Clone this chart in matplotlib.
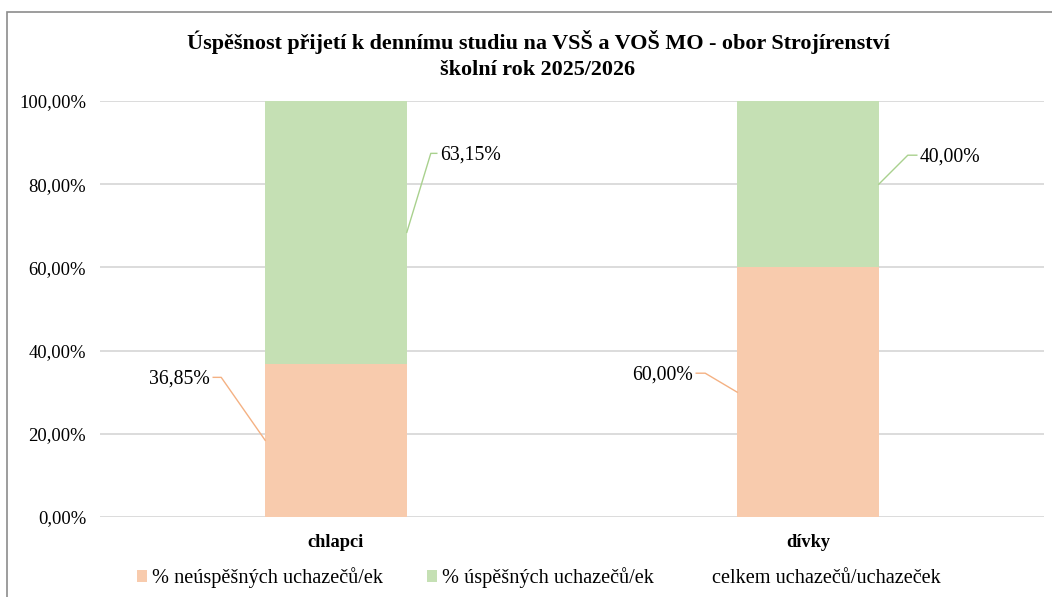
import matplotlib
matplotlib.use("Agg")
import matplotlib.pyplot as plt
from matplotlib.patches import Patch, Rectangle
import numpy as np

plt.rcParams['font.family'] = ['Liberation Serif', 'DejaVu Serif']

categories = ["chlapci", "dívky"]
fail_pct = [36.85, 60.00]
success_pct = [63.15, 40.00]
series_names = ["% neúspěšných uchazečů/ek", "% úspěšných uchazečů/ek", "celkem uchazečů/uchazeček"]
yticks = [0, 20, 40, 60, 80, 100]
title = "Úspěšnost přijetí k dennímu studiu na VSŠ a VOŠ MO - obor Strojírenství\nškolní rok 2025/2026"

c_fail = "#F8CBAD"
c_succ = "#C5E0B4"
c_fail_line = "#F4B183"
c_succ_line = "#A9D18E"

W, H = 1052, 597
fig = plt.figure(figsize=(W / 100, H / 100), dpi=100)
# outer chart frame
fig.patches.append(Rectangle((7 / W, -0.1), 1.2, (H - 12) / H + 0.1, transform=fig.transFigure,
                             fill=False, edgecolor="#8C8C8C", linewidth=1.2))

ax = fig.add_axes([100 / W, 1 - 517 / H, 944 / W, 416 / H])
x = np.arange(len(categories))
bw = 0.30
ax.bar(x, fail_pct, bw, color=c_fail, zorder=2)
ax.bar(x, success_pct, bw, bottom=fail_pct, color=c_succ, zorder=2)

ax.set_xlim(-0.5, 1.5)
ax.set_ylim(0, 100)
ax.set_yticks(yticks)
ax.set_yticklabels([f"{v:.2f}".replace(".", ",") + "%" for v in yticks], fontsize=13.4)
ax.set_xticks(x)
ax.set_xticklabels(categories, fontsize=13.2, fontweight="bold")
ax.tick_params(axis="both", length=0)
ax.tick_params(axis="y", pad=10)
ax.tick_params(axis="x", pad=12.5)
ax.grid(axis="y", color="#D9D9D9", linewidth=1.3, zorder=0)
for s in ax.spines.values():
    s.set_visible(False)

fig.text(538 / W, 1 - 55 / H, title, ha="center", va="center", fontsize=15.9,
         fontweight="bold", linespacing=1.45)

fig.canvas.draw()
to_disp = ax.transData.transform
to_data = ax.transData.inverted().transform


def leader(anchor, d_elbow, d_end, color, text, ha):
    a = to_disp(anchor)
    e = a + np.array(d_elbow)
    t = e + np.array(d_end)
    pts = to_data(np.vstack([a, e, t]))
    ax.plot(pts[:, 0], pts[:, 1], color=color, linewidth=1.0, zorder=3, clip_on=False)
    tx = t + np.array([3 if ha == "left" else -3, -2])
    tp = to_data(tx)
    ax.text(tp[0], tp[1], text, ha=ha, va="center", fontsize=14.2, zorder=4)


def fmt(v):
    return f"{v:.2f}".replace(".", ",") + "%"

# chlapci
leader((x[0] + bw / 2, fail_pct[0] + success_pct[0] * 0.50), (24, 79), (6, 0), c_succ_line, fmt(success_pct[0]), "left")
leader((x[0] - bw / 2, fail_pct[0] * 0.50), (-44, 63), (-8, 0), c_fail_line, fmt(fail_pct[0]), "right")
# dívky
leader((x[1] + bw / 2, fail_pct[1] + success_pct[1] * 0.50), (29, 29), (9, 0), c_succ_line, fmt(success_pct[1]), "left")
leader((x[1] - bw / 2, fail_pct[1] * 0.50), (-32, 19), (-9, 0), c_fail_line, fmt(fail_pct[1]), "right")

handles = [Patch(facecolor=c_fail), Patch(facecolor=c_succ), Patch(facecolor="none", edgecolor="none")]
fig.legend(handles, series_names, loc="center", bbox_to_anchor=(539 / W, 1 - 578 / H), ncol=3,
           frameon=False, fontsize=14.6, handlelength=0.5, handleheight=0.5, handletextpad=0.25,
           columnspacing=2.15, borderpad=0, borderaxespad=0)

fig.savefig("out.png", dpi=100)
